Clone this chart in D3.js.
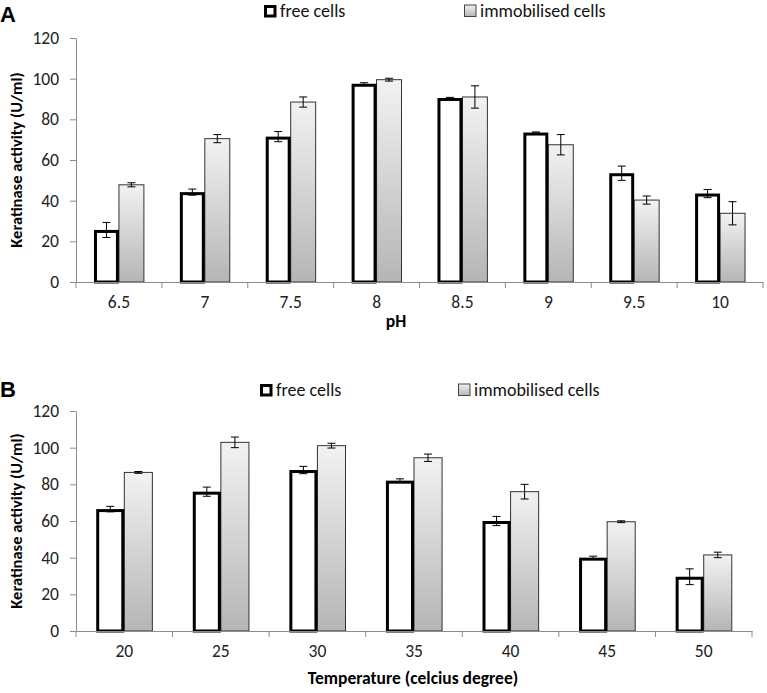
<!DOCTYPE html>
<html><head><meta charset="utf-8">
<script src="https://cdn.jsdelivr.net/npm/d3@7"></script>
<style>body{margin:0;background:#fff}svg{display:block}</style>
</head><body>
<svg id="c" width="767" height="693"></svg>
<script>
// Panel A data (pH)
const phCategories = ["6.5","7","7.5","8","8.5","9","9.5","10"];
const phFree = [25.6, 44.2, 71.5, 97.5, 90.5, 73.5, 53.5, 43.5];
const phFreeErr = [3.7, 1.5, 2.5, 0.5, 0.3, 0.3, 3.5, 2];
const phImmob = [47.8, 70.5, 88.5, 99.5, 91, 67.5, 40.3, 33.8];
const phImmobErr = [1, 2, 2.5, 0.7, 5.5, 5, 2, 5.7];
// Panel B data (temperature)
const tCategories = ["20","25","30","35","40","45","50"];
const tFree = [66.5, 76, 87.8, 82, 60, 40, 29.6];
const tFreeErr = [1.5, 2.5, 2, 1, 2.5, 0.8, 4.3];
const tImmob = [86.5, 102.9, 101.1, 94.5, 76, 59.6, 41.5];
const tImmobErr = [0.5, 2.9, 1.3, 2, 4, 0.5, 1.5];
const yTicks = [0,20,40,60,80,100,120];
const seriesNames = ["free cells","immobilised cells"];

const svg = d3.select("#c");
const font = "Carlito, Lato, 'Liberation Sans', sans-serif";
const defs = svg.append("defs");
const grad = defs.append("linearGradient").attr("id","gimm").attr("x1",0).attr("y1",0).attr("x2",0).attr("y2",1);
grad.append("stop").attr("offset","0%").attr("stop-color","#f2f2f2");
grad.append("stop").attr("offset","100%").attr("stop-color","#b5b5b5");

function panel(cfg){
  const g = svg.append("g");
  const x = d3.scaleBand().domain(cfg.cats).range([cfg.x0, cfg.x1]).padding(0);
  const x1 = d3.scaleBand().domain(seriesNames).range([0, x.bandwidth()]).paddingInner(0).paddingOuter(0.72);
  const y = d3.scaleLinear().domain([0,120]).range([cfg.yBase, cfg.yTop]);

  // y axis
  const ya = g.append("g").attr("transform",`translate(${cfg.x0},0)`)
    .call(d3.axisLeft(y).tickValues(yTicks).tickSize(6).tickPadding(11).tickSizeOuter(0));
  ya.select(".domain").attr("stroke","#8c8c8c");
  ya.selectAll(".tick line").attr("stroke","#8c8c8c");
  ya.selectAll("text").attr("font-family",font).attr("font-size",17.5).attr("fill","#222");

  // bars
  const data = cfg.cats.map((c,i)=>({c, v:[cfg.free[i], cfg.immob[i]], e:[cfg.freeErr[i], cfg.immobErr[i]]}));
  const grp = g.selectAll(".grp").data(data).join("g").attr("transform",d=>`translate(${x(d.c)},0)`);
  // immobilised bars
  grp.append("rect")
    .attr("x", x1(seriesNames[1])).attr("width", x1.bandwidth())
    .attr("y", d=>y(d.v[1])).attr("height", d=>cfg.yBase - y(d.v[1]))
    .attr("fill","url(#gimm)").attr("stroke","#333").attr("stroke-width",1);
  // free bars
  grp.append("rect")
    .attr("x", x1(seriesNames[0])+1.5).attr("width", x1.bandwidth()-3)
    .attr("y", d=>y(d.v[0])+1.5).attr("height", d=>cfg.yBase - y(d.v[0]) - 1.5)
    .attr("fill","#fff").attr("stroke","#000").attr("stroke-width",3);
  // error bars
  [0,1].forEach(k=>{
    const cx = x1(seriesNames[k]) + x1.bandwidth()/2;
    grp.append("line").attr("x1",cx).attr("x2",cx)
      .attr("y1",d=>y(d.v[k]+d.e[k])).attr("y2",d=>y(d.v[k]-d.e[k]))
      .attr("stroke","#000").attr("stroke-width",1);
    [1,-1].forEach(s=>{
      grp.append("line").attr("x1",cx-4).attr("x2",cx+4)
        .attr("y1",d=>y(d.v[k]+s*d.e[k])).attr("y2",d=>y(d.v[k]+s*d.e[k]))
        .attr("stroke","#000").attr("stroke-width",1);
    });
  });

  // x axis
  const xa = g.append("g").attr("transform",`translate(0,${cfg.yBase})`)
    .call(d3.axisBottom(x).tickSize(0).tickPadding(14));
  xa.select(".domain").attr("stroke","#8c8c8c");
  xa.selectAll("text").attr("font-family",font).attr("font-size",17.5).attr("fill","#222");
  const bounds = cfg.cats.map(c=>x(c)).concat([cfg.x1]);
  g.selectAll(".bt").data(bounds).join("line")
    .attr("x1",d=>d).attr("x2",d=>d).attr("y1",cfg.yBase).attr("y2",cfg.yBase+6)
    .attr("stroke","#8c8c8c");

  // axis titles
  g.append("text").attr("x",cfg.xTitleX).attr("y",cfg.xTitleY).attr("text-anchor","middle")
    .attr("font-family",font).attr("font-weight","bold").attr("font-size",17.5).text(cfg.xTitle);
  g.append("text").attr("transform",`translate(22,${(cfg.yBase+cfg.yTop)/2}) rotate(-90)`)
    .attr("text-anchor","middle").attr("font-family",font).attr("font-weight","bold").attr("font-size",16.5)
    .text("Keratinase activity (U/ml)");
  // panel letter
  g.append("text").attr("x",0).attr("y",cfg.letterY).attr("font-family","'Liberation Sans', Arial, sans-serif")
    .attr("font-weight","bold").attr("font-size",22).text(cfg.letter);

  // legend
  const lg = g.append("g");
  lg.append("rect").attr("x",cfg.legX[0]+1.5).attr("y",cfg.legY-6+1.5).attr("width",9.5).attr("height",9.5)
    .attr("fill","#fff").attr("stroke","#000").attr("stroke-width",3);
  lg.append("rect").attr("x",cfg.legX[1]+0.5).attr("y",cfg.legY-6).attr("width",11.5).attr("height",11.5)
    .attr("fill","url(#gimm)").attr("stroke","#444").attr("stroke-width",1);
  seriesNames.forEach((s,i)=>{
    lg.append("text").attr("x",cfg.legX[i]+16).attr("y",cfg.legY).attr("dy","0.35em")
      .attr("font-family",font).attr("font-size",18).attr("fill","#111").text(s);
  });
}

panel({cats:phCategories, free:phFree, freeErr:phFreeErr, immob:phImmob, immobErr:phImmobErr,
  x0:76, x1:763, yBase:282, yTop:38, xTitle:"pH", xTitleX:396, xTitleY:327,
  letter:"A", letterY:22, legX:[264,464], legY:11});
panel({cats:tCategories, free:tFree, freeErr:tFreeErr, immob:tImmob, immobErr:tImmobErr,
  x0:76, x1:752, yBase:631, yTop:411, xTitle:"Temperature (celcius degree)", xTitleX:413, xTitleY:684,
  letter:"B", letterY:397, legX:[260,458], legY:390});
</script>
</body></html>
